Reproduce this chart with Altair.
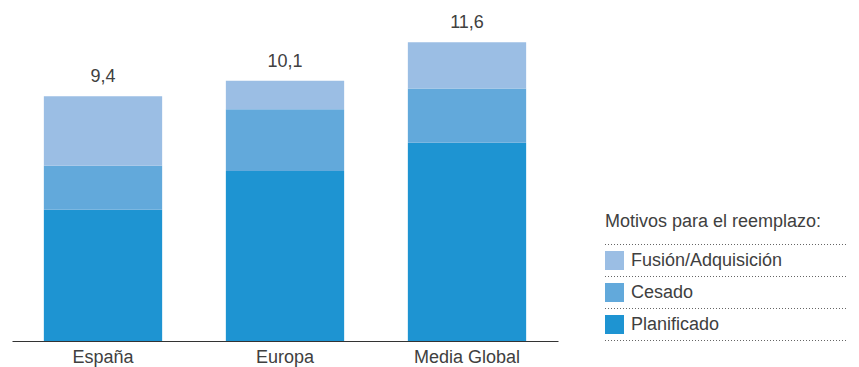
import altair as alt
import pandas as pd

# ---- data ----
categories = ["España", "Europa", "Media Global"]
motivos = ["Fusión/Adquisición", "Cesado", "Planificado"]
planificado = [5.1, 6.6, 7.7]
cesado = [1.7, 2.4, 2.1]
fusion = [2.7, 1.1, 1.8]
totals = [9.4, 10.1, 11.6]
colors = ["#9bbee4", "#62a9db", "#1e94d2"]

FONT = "Liberation Sans"
TXT = "#404040"

rows = []
for i, c in enumerate(categories):
    for m, vals, o in [("Planificado", planificado, 0),
                       ("Cesado", cesado, 1),
                       ("Fusión/Adquisición", fusion, 2)]:
        rows.append({"cat": c, "motivo": m, "valor": vals[i], "orden": o})
df = pd.DataFrame(rows)

tops = [planificado[i] + cesado[i] + fusion[i] for i in range(len(categories))]
tot_df = pd.DataFrame({
    "cat": categories,
    "top": tops,
    "label": [f"{t:.1f}".replace(".", ",") for t in totals],
})

W, H = 546, 341

x_enc = alt.X(
    "cat:N", sort=categories,
    scale=alt.Scale(paddingInner=0.35, paddingOuter=0.175),
    axis=alt.Axis(title=None, labelAngle=0, ticks=False, grid=False,
                  domain=True, domainColor="#333333", domainWidth=1,
                  labelFont=FONT, labelFontSize=18, labelColor=TXT,
                  labelPadding=7),
)
y_scale = alt.Scale(domain=[0, 13.24], nice=False, zero=True)

bars = alt.Chart(df).mark_bar(cornerRadius=0).encode(
    x=x_enc,
    y=alt.Y("valor:Q", stack="zero", scale=y_scale, axis=None),
    color=alt.Color(
        "motivo:N",
        scale=alt.Scale(domain=motivos, range=colors),
        legend=alt.Legend(
            title="Motivos para el reemplazo:",
            orient="none", legendX=593, legendY=213,
            titleFont=FONT, titleFontSize=18, titleFontWeight="normal",
            titleColor=TXT, titlePadding=20, titleLimit=400,
            labelFont=FONT, labelFontSize=18, labelColor=TXT,
            labelLimit=400,
            labelOffset=7, symbolType="square", symbolSize=361,
            symbolStrokeWidth=0, symbolOpacity=1, rowPadding=13,
            padding=0,
        ),
    ),
    order=alt.Order("orden:Q", sort="ascending"),
)

labels = alt.Chart(tot_df).mark_text(
    font=FONT, fontSize=18, color=TXT, baseline="alphabetic", dy=-14
).encode(
    x=alt.X("cat:N", sort=categories),
    y=alt.Y("top:Q", scale=y_scale, axis=None),
    text="label:N",
)

rule_layers = []
for yy in [244.5, 276.5, 308.5, 340.5]:
    rule_layers.append(
        alt.Chart(tot_df).mark_rule(color="#666666", strokeWidth=1,
                                    strokeDash=[1, 2]).encode(
            x=alt.value(593), x2=alt.value(835), y=alt.value(yy)
        )
    )

chart = alt.layer(bars, labels, *rule_layers).properties(
    width=W, height=H,
    autosize=alt.AutoSizeParams(type="none"),
    padding={"left": 12, "top": 0, "right": 859 - 12 - W, "bottom": 367 - H},
).configure(background="white").configure_view(stroke=None, strokeWidth=0)

chart.save("out.html", embed_options={"renderer": "svg", "actions": False})
